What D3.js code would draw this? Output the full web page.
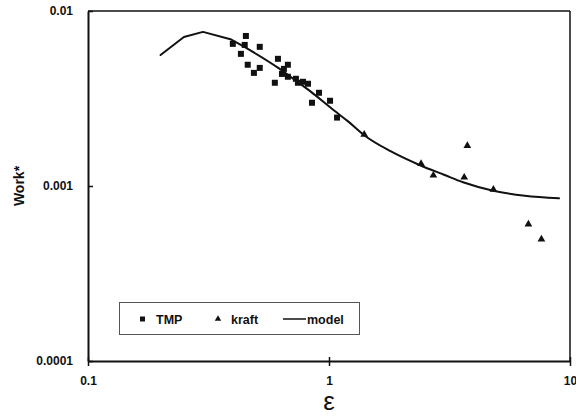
<!DOCTYPE html>
<html>
<head>
<meta charset="utf-8">
<script src="https://cdn.jsdelivr.net/npm/d3@7"></script>
<style>
  body { margin: 0; background: #fff; }
  text { font-family: "Liberation Sans", Arial, sans-serif; }
</style>
</head>
<body>
<div id="chart"></div>
<script>
// TMP data (squares)
const tmpX = [0.399, 0.452, 0.447, 0.516, 0.431, 0.614, 0.675, 0.460, 0.516, 0.488, 0.650,
              0.638, 0.675, 0.596, 0.729, 0.743, 0.780, 0.818, 0.909, 0.850, 1.010, 1.080];
const tmpY = [0.00649, 0.00720, 0.00640, 0.00624, 0.00569, 0.00533, 0.00493, 0.00493, 0.00473, 0.00443, 0.00467,
              0.00437, 0.00421, 0.00389, 0.00410, 0.00389, 0.00394, 0.00384, 0.00341, 0.00299, 0.00307, 0.00246];

// kraft data (triangles)
const kraftX = [1.40, 2.41, 2.71, 3.75, 3.64, 4.81, 6.72, 7.61];
const kraftY = [0.00197, 0.00134, 0.00115, 0.00170, 0.00112, 0.000955, 0.000604, 0.000496];

// model curve
const modelX = [0.2, 0.25, 0.3, 0.39, 0.44, 0.62, 0.71, 0.84, 1.05, 1.2, 1.4, 1.8, 2.4, 3.0, 3.6, 4.8, 6.5, 9.0];
const modelY = [0.0056, 0.0071, 0.0076, 0.0069, 0.0063, 0.0047, 0.0041, 0.00346, 0.0027, 0.00234, 0.00195, 0.00158,
                0.00131, 0.00116, 0.00105, 0.00094, 0.00088, 0.00085];

const xTicks = [0.1, 1, 10];
const xTickLabels = ["0.1", "1", "10"];
const yTicks = [0.0001, 0.001, 0.01];
const yTickLabels = ["0.0001", "0.001", "0.01"];

const legendItems = ["TMP", "kraft", "model"];

const width = 576, height = 416;
const margin = { top: 11, right: 6, bottom: 55, left: 88 };

const svg = d3.select("#chart").append("svg")
  .attr("width", width)
  .attr("height", height);

const x = d3.scaleLog().domain([0.1, 10]).range([margin.left, width - margin.right]);
const y = d3.scaleLog().domain([0.0001, 0.01]).range([height - margin.bottom, margin.top]);

// frame: top and right
svg.append("line")
  .attr("x1", x(0.1)).attr("x2", x(10))
  .attr("y1", y(0.01)).attr("y2", y(0.01))
  .attr("stroke", "#111").attr("stroke-width", 1.5);
svg.append("line")
  .attr("x1", x(10)).attr("x2", x(10))
  .attr("y1", y(0.01)).attr("y2", y(0.0001))
  .attr("stroke", "#111").attr("stroke-width", 1.5);

// axes
const xAxis = svg.append("g")
  .attr("transform", `translate(0,${y(0.0001)})`)
  .call(d3.axisBottom(x).tickValues(xTicks).tickFormat((d, i) => xTickLabels[i])
    .tickSizeInner(5).tickSizeOuter(0).tickPadding(10));
const yAxis = svg.append("g")
  .attr("transform", `translate(${x(0.1)},0)`)
  .call(d3.axisLeft(y).tickValues(yTicks).tickFormat((d, i) => yTickLabels[i])
    .tickSizeInner(6).tickSizeOuter(0).tickPadding(9));

[xAxis, yAxis].forEach(a => {
  a.select(".domain").attr("stroke", "#111").attr("stroke-width", 2);
  a.selectAll(".tick line").attr("stroke", "#111").attr("stroke-width", 1.5);
  a.selectAll(".tick text")
    .attr("fill", "#111")
    .attr("font-size", 12)
    .attr("font-weight", "bold")
    .attr("font-family", "Liberation Sans, Arial, sans-serif");
});
// ticks cross the axis
xAxis.selectAll(".tick line").attr("y1", -4);
yAxis.selectAll(".tick line").attr("x2", 5);

// axis titles
svg.append("text")
  .attr("transform", `translate(24,${y(0.001)}) rotate(-90)`)
  .attr("text-anchor", "middle")
  .attr("font-size", 14)
  .attr("font-weight", "bold")
  .attr("fill", "#111")
  .text("Work*");

svg.append("text")
  .attr("x", x(1))
  .attr("y", 410)
  .attr("text-anchor", "middle")
  .attr("font-size", 26)
  .attr("font-family", "DejaVu Sans, sans-serif")
  .attr("fill", "#111")
  .text("ε");

// model line: angular near the peak, smooth on the tail
const modelPts = modelX.map((v, i) => [v, modelY[i]]);
const split = modelX.indexOf(0.44);
const lineLinear = d3.line().x(d => x(d[0])).y(d => y(d[1]));
const lineSmooth = d3.line().x(d => x(d[0])).y(d => y(d[1])).curve(d3.curveMonotoneX);

[[modelPts.slice(0, split + 1), lineLinear], [modelPts.slice(split), lineSmooth]].forEach(([pts, gen]) => {
  svg.append("path")
    .datum(pts)
    .attr("fill", "none")
    .attr("stroke", "#111")
    .attr("stroke-width", 2)
    .attr("stroke-linejoin", "round")
    .attr("stroke-linecap", "round")
    .attr("d", gen);
});

// TMP squares
const sq = 6;
svg.append("g")
  .selectAll("rect")
  .data(tmpX.map((v, i) => [v, tmpY[i]]))
  .join("rect")
  .attr("x", d => x(d[0]) - sq / 2)
  .attr("y", d => y(d[1]) - sq / 2)
  .attr("width", sq)
  .attr("height", sq)
  .attr("fill", "#111");

// kraft triangles
const tri = d3.symbol().type(d3.symbolTriangle).size(26);
svg.append("g")
  .selectAll("path")
  .data(kraftX.map((v, i) => [v, kraftY[i]]))
  .join("path")
  .attr("transform", d => `translate(${x(d[0])},${y(d[1])})`)
  .attr("d", tri)
  .attr("fill", "#111");

// legend
const legend = svg.append("g");
legend.append("rect")
  .attr("x", 119.5).attr("y", 302.5)
  .attr("width", 240).attr("height", 32)
  .attr("fill", "#fff")
  .attr("stroke", "#555")
  .attr("stroke-width", 1);

const legendY = 319;
legend.append("rect")
  .attr("x", 140).attr("y", legendY - 2.5)
  .attr("width", 5).attr("height", 5)
  .attr("fill", "#111");
legend.append("path")
  .attr("transform", `translate(218,${legendY})`)
  .attr("d", d3.symbol().type(d3.symbolTriangle).size(18))
  .attr("fill", "#111");
legend.append("line")
  .attr("x1", 283).attr("x2", 306)
  .attr("y1", legendY).attr("y2", legendY)
  .attr("stroke", "#111").attr("stroke-width", 1.5);

const legendTextX = [156, 231, 307];
legend.selectAll("text.leg")
  .data(legendItems)
  .join("text")
  .attr("class", "leg")
  .attr("x", (d, i) => legendTextX[i])
  .attr("y", legendY + 4.5)
  .attr("font-size", 12.5)
  .attr("font-weight", "bold")
  .attr("fill", "#111")
  .text(d => d);
</script>
</body>
</html>
